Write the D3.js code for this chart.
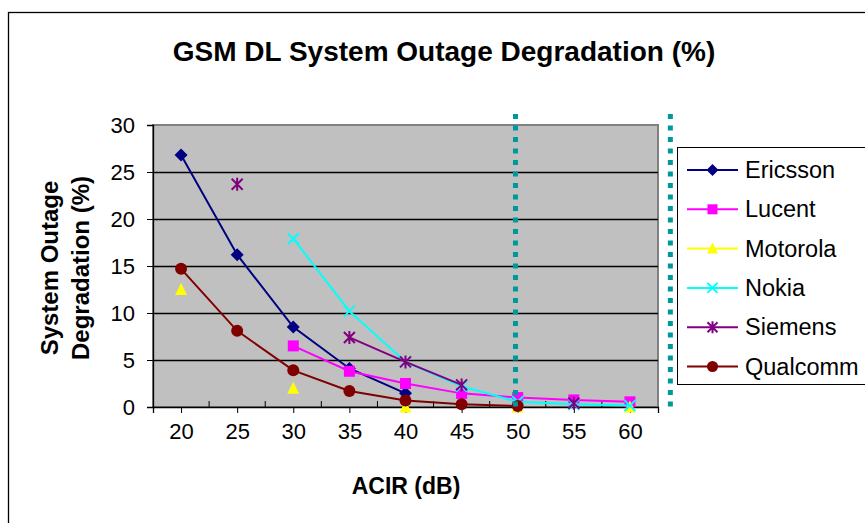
<!DOCTYPE html>
<html><head><meta charset="utf-8">
<script src="https://cdn.jsdelivr.net/npm/d3@7"></script>
<style>body{margin:0;background:#fff}svg{display:block}text{font-family:Arial,"Liberation Sans",sans-serif}</style>
</head><body>
<svg id="c" width="865" height="523"></svg>
<script>
const categories = [20, 25, 30, 35, 40, 45, 50, 55, 60];
const ericsson = [26.8, 16.2, 8.5, 4.1, 1.45, null, null, null, null];
const lucent   = [null, null, 6.5, 3.8, 2.5, 1.45, 1.0, 0.75, 0.55];
const motorola = [12.5, null, 2.0, null, 0, null, 0, null, 0];
const nokia    = [null, null, 17.9, 10.2, 4.8, 2.2, 0.55, 0.3, 0.15];
const siemens  = [null, 23.7, null, 7.4, 4.8, 2.35, null, 0.4, null];
const qualcomm = [14.7, 8.1, 3.9, 1.7, 0.7, 0.3, 0.1, null, null];
const seriesNames = ["Ericsson", "Lucent", "Motorola", "Nokia", "Siemens", "Qualcomm"];
const seriesColors = ["#000080", "#ff00ff", "#ffff00", "#00ffff", "#800080", "#800000"];
const seriesShapes = ["diamond", "square", "triangle", "x", "star", "circle"];
const yTicks = [0, 5, 10, 15, 20, 25, 30];
const xDomain = [17.5, 62.5];
const refLines = [49.8, 63.6];

const seriesValues = [ericsson, lucent, motorola, nokia, siemens, qualcomm];
const svg = d3.select("#c");
const pL = 153, pR = 658, pT = 125, pB = 407;
const x = d3.scaleLinear().domain(xDomain).range([pL, pR]);
const y = d3.scaleLinear().domain([0, 30]).range([pB, pT]);

// outer chart border
svg.append("rect").attr("x", 8.5).attr("y", 12.5).attr("width", 900).attr("height", 600)
  .attr("fill", "#fff").attr("stroke", "#000").attr("stroke-width", 1.3);

// title
svg.append("text").attr("x", 444).attr("y", 61).attr("text-anchor", "middle")
  .attr("font-size", 28).attr("font-weight", "bold").text("GSM DL System Outage Degradation (%)");

// plot area
svg.append("rect").attr("x", pL).attr("y", pT).attr("width", pR - pL).attr("height", pB - pT)
  .attr("fill", "#c0c0c0").attr("stroke", "#808080").attr("stroke-width", 2);

// gridlines
svg.append("g").selectAll("line").data(yTicks.filter(d => d > 0 && d < 30)).join("line")
  .attr("x1", pL).attr("x2", pR).attr("y1", d => Math.round(y(d)) + 0.5).attr("y2", d => Math.round(y(d)) + 0.5)
  .attr("stroke", "#000").attr("stroke-width", 1.3);

// y axis
const yAxis = d3.axisLeft(y).tickValues(yTicks).tickSize(6).tickPadding(12).tickFormat(d3.format("d"));
const gy = svg.append("g").attr("transform", `translate(${pL},0)`).call(yAxis);
gy.select(".domain").attr("stroke", "#000").attr("stroke-width", 1.3);
gy.selectAll("text").attr("font-size", 22).attr("fill", "#000").style("font-family", "Arial, 'Liberation Sans', sans-serif");

// x axis: labelled ticks outside, half ticks inside
const xAxis = d3.axisBottom(x).tickValues(categories).tickSize(6).tickPadding(10).tickFormat(d3.format("d"));
const gx = svg.append("g").attr("transform", `translate(0,${pB})`).call(xAxis);
gx.select(".domain").attr("stroke", "#000").attr("stroke-width", 1.3);
gx.selectAll("text").attr("font-size", 22).attr("fill", "#000").style("font-family", "Arial, 'Liberation Sans', sans-serif");
const halfTicks = d3.range(xDomain[0] + 5, xDomain[1], 5);
svg.append("g").selectAll("line").data(halfTicks).join("line")
  .attr("x1", d => x(d)).attr("x2", d => x(d)).attr("y1", pB).attr("y2", pB - 6)
  .attr("stroke", "#000").attr("stroke-width", 1);

// axis titles
svg.append("text").attr("x", 406).attr("y", 494).attr("text-anchor", "middle")
  .attr("font-size", 23).attr("font-weight", "bold").text("ACIR (dB)");
const yt = svg.append("text").attr("transform", "translate(58,268) rotate(-90)")
  .attr("text-anchor", "middle").attr("font-size", 24).attr("font-weight", "bold");
yt.append("tspan").attr("x", 0).attr("dy", 0).text("System Outage");
yt.append("tspan").attr("x", 0).attr("dy", 31).text("Degradation (%)");

// marker drawing
function marker(g, shape, color, cx, cy, s) {
  const h = s / 2;
  if (shape === "diamond") {
    g.append("path").attr("d", `M${cx},${cy-h-1}L${cx+h+1},${cy}L${cx},${cy+h+1}L${cx-h-1},${cy}Z`).attr("fill", color);
  } else if (shape === "square") {
    g.append("rect").attr("x", cx - h).attr("y", cy - h).attr("width", s).attr("height", s).attr("fill", color);
  } else if (shape === "triangle") {
    g.append("path").attr("d", `M${cx},${cy-h-1}L${cx+h+0.5},${cy+h}L${cx-h-0.5},${cy+h}Z`).attr("fill", color);
  } else if (shape === "circle") {
    g.append("circle").attr("cx", cx).attr("cy", cy).attr("r", h + 0.5).attr("fill", color);
  } else if (shape === "x") {
    g.append("path").attr("d", `M${cx-h},${cy-h}L${cx+h},${cy+h}M${cx-h},${cy+h}L${cx+h},${cy-h}`)
      .attr("stroke", color).attr("stroke-width", 2).attr("fill", "none");
  } else if (shape === "star") {
    g.append("path").attr("d", `M${cx-h},${cy-h}L${cx+h},${cy+h}M${cx-h},${cy+h}L${cx+h},${cy-h}M${cx},${cy-h-1}L${cx},${cy+h+1}`)
      .attr("stroke", color).attr("stroke-width", 2).attr("fill", "none");
  }
}

// series
const line = d3.line().defined(d => d.v !== null).x(d => x(d.c)).y(d => y(d.v));
seriesValues.forEach((vals, i) => {
  const pts = categories.map((c, k) => ({ c, v: vals[k] }));
  const g = svg.append("g");
  g.append("path").datum(pts).attr("d", line).attr("fill", "none")
    .attr("stroke", seriesColors[i]).attr("stroke-width", 2);
  pts.filter(p => p.v !== null).forEach(p => marker(g, seriesShapes[i], seriesColors[i], x(p.c), y(p.v), 11));
});

// dotted reference lines
svg.append("g").selectAll("line").data(refLines).join("line")
  .attr("x1", d => x(d)).attr("x2", d => x(d)).attr("y1", 114).attr("y2", 412)
  .attr("stroke", "#009999").attr("stroke-width", 5).attr("stroke-dasharray", "5 6.5");

// legend
const lg = svg.append("g");
lg.append("rect").attr("x", 677.5).attr("y", 147.5).attr("width", 200).attr("height", 237)
  .attr("fill", "#fff").attr("stroke", "#000").attr("stroke-width", 1);
seriesNames.forEach((n, i) => {
  const cy = 170 + i * 39.3;
  lg.append("line").attr("x1", 687).attr("x2", 738).attr("y1", cy).attr("y2", cy)
    .attr("stroke", seriesColors[i]).attr("stroke-width", 2);
  marker(lg, seriesShapes[i], seriesColors[i], 712.5, cy, 10);
  lg.append("text").attr("x", 745).attr("y", cy + 8).attr("font-size", 23.5).text(n);
});
</script>
</body></html>
